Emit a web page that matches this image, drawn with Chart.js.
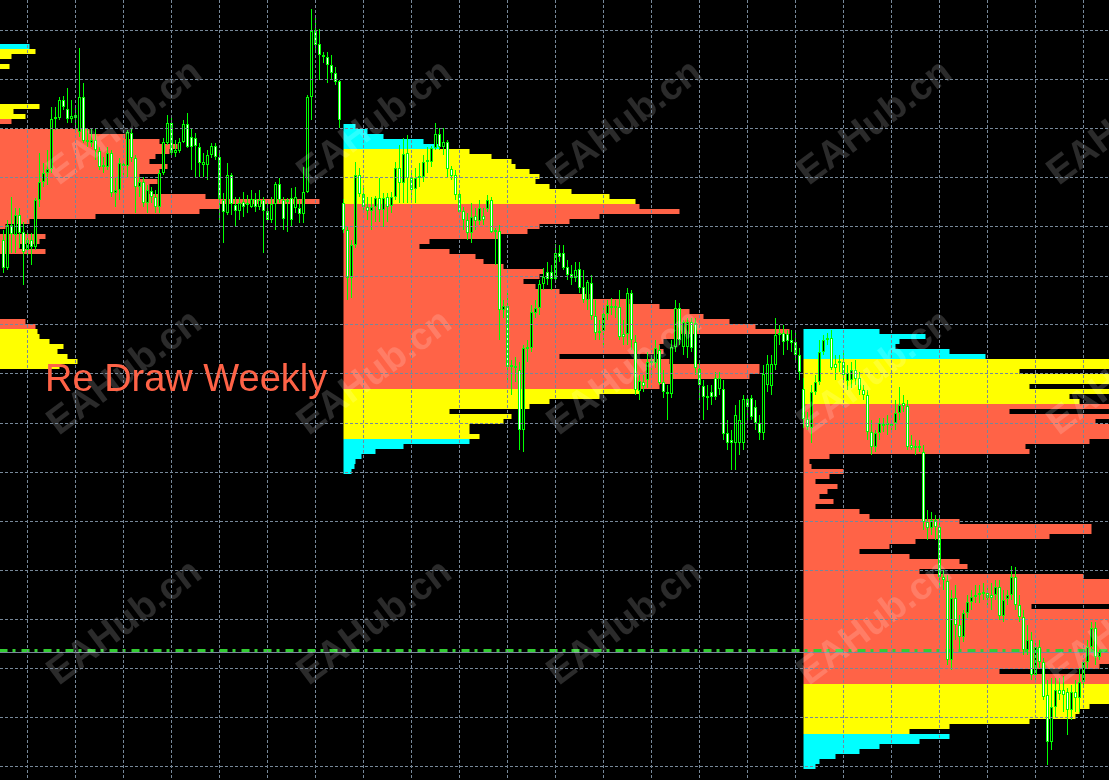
<!DOCTYPE html>
<html><head><meta charset="utf-8">
<script src="https://cdn.jsdelivr.net/npm/chart.js"></script>
<style>html,body{margin:0;padding:0;background:#000;overflow:hidden}canvas{display:block;background:#000}</style>
</head><body>
<canvas id="c" width="1109" height="780"></canvas>
<script>
// ---- H1 candles (price in points), bar index 0..274 ----
const open = [526,498,541,531,551,534,516,526,519,566,584,593,597,647,648,666,657,647,651,634,669,624,623,626,615,599,599,613,573,576,602,600,633,608,579,584,563,575,569,559,593,623,643,613,615,624,642,629,628,619,601,601,611,620,609,566,553,591,561,555,564,563,559,567,559,566,555,546,562,582,566,564,568,558,558,552,574,669,736,722,711,709,701,693,685,563,536,488,521,591,572,559,555,559,568,556,569,560,569,598,583,613,588,577,588,589,604,604,618,632,619,624,597,591,572,555,546,533,550,545,550,557,566,534,535,456,460,399,400,396,336,417,418,453,458,482,494,494,487,513,513,499,492,488,497,479,466,483,450,435,435,452,460,458,459,432,432,473,424,375,384,386,403,403,416,384,374,372,419,458,419,419,444,443,397,380,369,374,388,377,377,333,326,323,323,323,367,368,359,343,333,381,380,401,431,433,432,426,424,411,377,347,338,374,384,414,426,428,402,403,404,385,386,396,388,376,371,334,319,333,342,342,340,343,353,363,360,321,318,320,314,244,238,246,239,189,185,106,168,141,129,153,164,169,171,173,173,171,171,179,150,167,171,189,161,149,116,126,91,119,104,71,24,59,76,76,74,56,74,68,84,104,119,138,109];
const high = [536,546,569,558,558,544,536,533,568,613,603,616,659,659,669,670,678,666,658,718,683,638,638,638,619,609,619,616,588,608,606,636,638,611,589,589,581,579,576,596,628,651,651,626,628,646,653,638,633,623,613,616,623,623,613,573,603,593,569,569,574,571,576,573,576,569,566,569,584,588,569,568,578,579,566,599,671,757,749,737,714,714,711,699,686,567,540,526,604,598,579,569,569,570,588,573,573,574,604,621,628,631,593,598,603,611,619,620,643,638,638,626,600,596,575,559,553,563,558,566,558,571,569,538,541,466,476,406,409,404,421,426,461,466,486,498,504,501,522,521,521,506,501,504,504,496,486,491,466,446,461,466,468,466,476,446,478,476,431,391,391,414,411,426,421,396,381,426,466,463,446,448,448,448,406,386,381,381,394,394,386,346,336,361,366,371,371,371,366,351,401,411,411,448,441,441,436,436,436,418,388,354,381,391,426,431,433,436,411,411,414,401,404,406,394,381,376,346,336,348,348,351,346,366,379,371,366,331,326,326,321,256,254,251,251,196,191,176,181,151,156,171,176,181,181,183,181,183,186,186,176,176,200,199,171,156,141,134,126,126,108,86,88,88,88,90,78,81,86,98,106,126,144,144,116];
const low = [493,496,513,513,518,481,511,501,516,559,579,581,593,636,646,656,643,643,636,629,623,619,619,606,596,593,596,569,559,566,589,589,604,553,569,559,553,563,553,553,591,621,609,609,613,623,618,596,589,589,589,586,608,606,546,523,551,551,539,546,549,553,558,554,556,513,543,543,536,563,536,534,539,553,543,543,573,646,713,686,703,683,686,681,638,533,466,468,518,569,553,546,536,544,544,539,544,553,566,563,563,563,563,563,579,584,593,599,616,616,611,588,586,566,553,536,526,523,536,541,541,554,533,501,426,448,386,371,384,316,314,404,414,448,451,476,481,476,484,504,496,486,481,484,473,463,456,446,426,426,421,446,451,448,426,421,421,416,371,366,374,378,391,398,381,368,346,368,414,421,411,408,414,391,366,346,356,361,366,371,326,316,296,296,311,316,346,346,336,326,326,374,371,396,421,411,416,414,404,386,338,336,323,371,381,411,421,396,386,394,386,376,378,381,371,366,326,311,314,326,334,331,334,336,346,354,316,316,311,314,236,226,231,226,181,176,101,96,126,116,124,148,156,163,163,166,161,156,166,146,144,161,166,156,144,111,111,86,86,98,66,1,16,48,66,54,31,46,54,54,78,98,114,101,106];
const close = [498,541,532,551,533,514,526,519,566,584,593,597,647,649,666,659,647,650,648,669,625,625,626,616,599,600,613,573,576,603,600,634,608,579,584,563,576,569,559,593,624,643,613,616,624,642,619,619,620,603,604,611,620,609,567,554,591,562,555,563,559,561,567,559,566,555,546,562,582,566,547,566,546,569,552,574,669,735,721,711,709,701,693,684,646,536,488,521,591,572,559,555,559,568,556,568,559,569,598,583,612,588,576,588,590,604,605,618,632,619,624,597,590,571,554,546,533,549,545,558,546,566,534,535,456,460,399,400,398,336,418,419,454,458,482,489,487,487,513,509,498,491,488,496,478,466,484,450,433,433,452,461,458,459,429,429,473,426,376,385,380,404,404,418,383,374,372,419,458,426,444,444,418,398,381,369,368,369,369,388,332,323,323,351,346,367,359,349,343,333,392,402,402,431,433,424,425,423,411,394,347,339,374,384,414,426,428,398,398,404,391,393,396,387,376,371,334,319,333,343,340,341,342,353,361,360,319,318,320,318,244,238,246,239,189,186,106,168,141,129,153,164,169,171,173,172,168,168,179,150,166,171,189,161,149,116,126,91,119,104,69,24,59,76,72,71,56,74,68,84,104,119,138,109,114];

// ---- weekly volume profiles: bin size, first (highest) bin price, week start bar, volumes (bars), band limits ----
const profileBin = 5;
const week1Start = -30, week1Top = 719.5;
const week1Volume = [36.5,38,32,null,31.5,null,null,null,null,null,null,null,39,32.5,35.5,32,null,51.5,60.5,69,73.5,71.5,68,66.5,71,69,64,68.5,66.5,66.5,80.5,109,84,79,53,36.5,30.5,null,40.5,39,34,40.5,null,null,null,null,null,null,null,null,null,null,null,null,null,35.5,38,38.5,39,41.5,45,43.5,46,48.5,44];
const week1Bands = [718, 647, 439, 398];
const week2Start = 85, week2Top = 639.5;
const week2Volume = [3,6,10,20,24,31.5,37,42,43,46.5,49,48,51.5,57,66.5,73,74,84,64,56.5,49,46,39,21.5,19,26.5,33,35,40,50,49,45,48,54,61.5,71.5,79,86.5,90,96.5,103,111.5,84,80,79,80,54,81.5,104,104,101.5,82,79,74,64,51.5,46.5,26.5,42,40,31.5,31.5,34,31.5,15,8,4.5,3,2.75,2];
const week2Bands = [615, 563, 378, 329];
const week3Start = 200, week3Top = 434.5;
const week3Volume = [19,30.5,24,23,36.5,45.5,86,88,54,90,87,56.5,89,66.5,69,88,51.5,92,73,90,88,86,71.5,55.5,56.5,6.5,1.5,2,10,6.5,3,8.5,6,4,7.5,3,14,16.5,39,72,72,61.5,28,21.5,14,26.5,39,41,29,70,84,88,91,89,86,57,88,92,95,94,90,93,96,98,97,95,90,74,49,88,92,95,91,88,84,71.5,69,68,56.5,36.5,26.5,36.5,29,19,14,8,4,3];
const week3Bands = [408, 363, 81, 34];

// ---- levels ----
const lastBid = 113.5;
const signalLevel = 115.5;

// ---- grid ticks ----
const xGridTicks = [6,18,30,42,54,66,78,90,102,114,126,138,150,162,174,186,198,210,222,234,246,258,270];
const yGridTicks = [0,49,98,147,196,245,294,343,392,441,490,539,588,637,686,735];

const TOMATO = '#FF6347', YELLOW = '#FFFF00', CYAN = '#00FFFF', LIME = '#00FF00';
function bandColour(b, v) {
  if (v > b[0]) return CYAN;
  if (v > b[1]) return YELLOW;
  if (v > b[2]) return TOMATO;
  if (v > b[3]) return YELLOW;
  return CYAN;
}
function profileDataset(start, top, vols, bands) {
  const data = [];
  vols.forEach((vol, i) => { if (vol != null) data.push({ x: [start, start + vol], y: top - i * profileBin }); });
  return {
    type: 'bar', indexAxis: 'y', data,
    backgroundColor: data.map(d => bandColour(bands, d.y)),
    borderWidth: 0, barThickness: 5, grouped: false, inflateAmount: 0, order: 10
  };
}
const bars = open.map((_, i) => i);

const overlay = {
  id: 'overlay',
  afterDatasetsDraw(chart) {
    const ctx = chart.ctx;
    ctx.save();
    ctx.font = 'bold 38px "Liberation Sans", Arial, sans-serif';
    ctx.textAlign = 'center';
    ctx.textBaseline = 'middle';
    ctx.fillStyle = 'rgba(255,255,255,0.17)';
    for (let r = 0; r < 3; r++) {
      for (let c = 0; c < 5; c++) {
        ctx.save();
        ctx.translate(125 + 250 * c, 123 + 250 * r);
        ctx.rotate(-37 * Math.PI / 180);
        ctx.fillText('EAHub.cn', 0, 0);
        ctx.restore();
      }
    }
    ctx.restore();
  },
  afterDraw(chart) {
    const ctx = chart.ctx;
    ctx.save();
    ctx.font = '38px "Liberation Sans", Arial, sans-serif';
    ctx.fillStyle = TOMATO;
    ctx.textBaseline = 'alphabetic';
    ctx.fillText('Re Draw Weekly', 45, 391);
    ctx.restore();
  }
};

const gridCommon = { color: '#778899', lineWidth: 1, drawTicks: false, offset: false, z: 1 };

new Chart(document.getElementById('c'), {
  type: 'bar',
  data: {
    datasets: [
      profileDataset(week1Start, week1Top, week1Volume, week1Bands),
      profileDataset(week2Start, week2Top, week2Volume, week2Bands),
      profileDataset(week3Start, week3Top, week3Volume, week3Bands),
      { type: 'line', data: [{ x: -1, y: signalLevel }, { x: 277, y: signalLevel }], borderColor: '#32CD32', borderWidth: 3, borderDash: [8, 5, 3, 6], pointRadius: 0, order: 3 },
      { type: 'line', data: [{ x: -1, y: lastBid }, { x: 277, y: lastBid }], borderColor: '#778899', borderWidth: 1, pointRadius: 0, order: 4 },
      { type: 'bar', data: bars.map(i => ({ x: i, y: [low[i], high[i]] })), backgroundColor: LIME, barThickness: 1, grouped: false, inflateAmount: 0, order: 2 },
      { type: 'bar', data: bars.map(i => ({ x: i, y: [open[i], close[i]] })),
        backgroundColor: bars.map(i => close[i] > open[i] ? '#000000' : '#FFFFFF'),
        borderColor: LIME, borderWidth: 1, borderSkipped: false, barThickness: 3, minBarLength: 2,
        grouped: false, inflateAmount: 0, order: 1 }
    ]
  },
  options: {
    responsive: false, animation: false, events: [],
    layout: { padding: 0 },
    plugins: { legend: { display: false }, tooltip: { enabled: false } },
    scales: {
      x: { type: 'linear', min: -0.875, max: 276.375, offset: false,
        afterBuildTicks: s => { s.ticks = xGridTicks.map(v => ({ value: v })); },
        afterFit: s => { s.height = 0; },
        ticks: { display: false }, grid: gridCommon, border: { display: false, dash: [3, 2] } },
      y: { type: 'linear', min: -14, max: 766, offset: false, beginAtZero: false,
        afterBuildTicks: s => { s.ticks = yGridTicks.map(v => ({ value: v })); },
        afterFit: s => { s.width = 0; },
        ticks: { display: false }, grid: gridCommon, border: { display: false, dash: [3, 2] } }
    }
  },
  plugins: [overlay]
});
</script>
</body></html>
